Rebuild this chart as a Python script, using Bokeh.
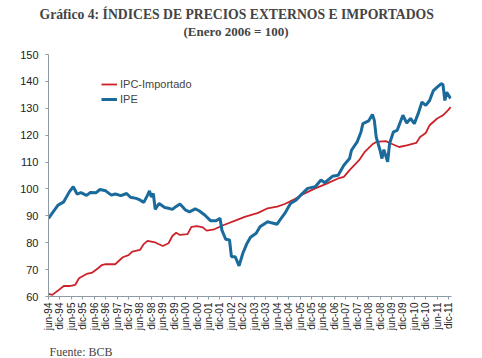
from bokeh.plotting import figure
from bokeh.models import Range1d, FixedTicker, Title, Legend, LegendItem
from bokeh.embed import file_html
from bokeh.resources import INLINE

# months counted from jun-94 (0)
ipe_mes = [0, 3, 5, 8, 11, 13, 15, 17, 20, 22, 25, 27, 30, 33, 35, 38, 41, 43, 46, 48, 50, 52, 53, 54, 55, 56,
           58, 61, 63, 65, 67, 69, 72, 74, 77, 79, 82, 85, 88, 90, 91, 93, 95, 96, 98, 100, 102, 104, 106, 109,
           111, 115, 117, 120, 122, 124, 127, 130, 132, 136, 140, 143, 145, 149, 152, 155, 158, 159, 162, 164,
           165, 168, 170, 171, 172, 174, 175, 176, 178, 179, 181, 183, 186, 188, 190, 192, 194, 196, 198, 200,
           202, 204, 206, 207, 208, 209, 211]
ipe_val = [89.1, 92.0, 94.0, 95.2, 99.0, 100.8, 98.1, 98.6, 97.6, 98.7, 98.6, 99.8, 99.3, 97.7, 98.1, 97.5, 98.3,
           96.9, 96.5, 95.9, 95.0, 97.7, 99.3, 97.0, 98.3, 92.4, 94.6, 93.1, 92.8, 92.4, 93.5, 94.4, 92.1, 91.5,
           92.6, 91.9, 90.3, 88.2, 88.2, 89.1, 84.7, 81.3, 81.0, 74.8, 74.8, 71.4, 76.1, 79.5, 82.0, 83.5, 85.9,
           87.8, 87.4, 86.9, 89.0, 90.9, 94.6, 95.9, 97.4, 100.2, 100.8, 103.3, 102.3, 104.7, 105.1, 108.8, 111.3,
           114.4, 117.5, 121.2, 124.3, 125.3, 127.7, 125.5, 119.3, 114.4, 111.3, 114.6, 110.1, 116.9, 121.2, 121.8,
           127.4, 124.5, 126.2, 124.3, 128.0, 132.3, 131.1, 132.9, 136.6, 137.9, 139.1, 138.9, 132.9, 136.0, 133.6]

ipc_mes = [0, 2, 5, 8, 11, 14, 16, 20, 23, 26, 28, 30, 35, 39, 42, 44, 48, 50, 52, 56, 60, 63, 65, 67, 69, 73,
           75, 78, 81, 83, 87, 92, 98, 103, 110, 115, 120, 124, 129, 132, 140, 146, 152, 155, 158, 163, 166, 170,
           172, 177, 180, 184, 188, 193, 195, 198, 200, 204, 207, 210, 211]
ipc_val = [61.0, 60.6, 62.2, 63.9, 63.9, 64.3, 66.8, 68.4, 68.9, 70.5, 71.7, 72.0, 72.0, 74.6, 75.4, 76.7, 77.3,
           79.5, 80.7, 80.1, 78.8, 79.8, 82.5, 83.7, 82.9, 83.2, 85.9, 86.2, 85.7, 84.5, 85.0, 86.6, 88.2, 89.6,
           91.1, 92.8, 93.4, 94.4, 96.1, 97.5, 100.2, 102.0, 103.9, 104.5, 107.0, 110.7, 113.8, 116.6, 117.5,
           117.8, 116.8, 115.6, 116.2, 117.1, 119.3, 120.8, 123.7, 126.2, 127.4, 129.5, 130.5]

tick_mes = list(range(0, 211, 6))
tick_labels = [("jun-" if i % 2 == 0 else "dic-") + "%02d" % ((94 + i // 2) % 100) for i in range(len(tick_mes))]
y_ticks = [60, 70, 80, 90, 100, 110, 120, 130, 140, 150]

titulo1 = "Gráfico 4: ÍNDICES DE PRECIOS EXTERNOS E IMPORTADOS"
titulo2 = "(Enero 2006 = 100)"
fuente = "Fuente: BCB"

BLUE = "#1b6a9c"
RED = "#cc2229"
AXIS = "#8c9ba5"

p = figure(width=482, height=358, output_backend="svg", toolbar_location=None,
           x_range=Range1d(0, 211.5), y_range=Range1d(60, 150),
           min_border_left=48, min_border_right=31, min_border_top=54, min_border_bottom=58)
p.title = None
p.outline_line_color = None
p.grid.visible = False
p.background_fill_color = "white"
p.border_fill_color = "white"

l_ipc = p.line(ipc_mes, ipc_val, line_color=RED, line_width=1.8)
l_ipe = p.line(ipe_mes, ipe_val, line_color=BLUE, line_width=3)

p.xaxis.ticker = FixedTicker(ticks=tick_mes)
p.xaxis.major_label_overrides = {m: t for m, t in zip(tick_mes, tick_labels)}
p.xaxis.major_label_orientation = 1.5708
p.xaxis.major_label_text_font = "Liberation Sans"
p.xaxis.major_label_text_font_size = "10px"
p.xaxis.major_label_text_color = "#222222"
p.xaxis.major_label_standoff = 3
p.xaxis.minor_tick_line_color = None
p.xaxis.major_tick_in = 0
p.xaxis.major_tick_out = 3

p.yaxis.ticker = FixedTicker(ticks=y_ticks)
p.yaxis.major_label_text_font = "Liberation Sans"
p.yaxis.major_label_text_font_size = "11px"
p.yaxis.major_label_text_color = "#222222"
p.yaxis.minor_tick_line_color = None
p.yaxis.major_tick_in = 0
p.yaxis.major_tick_out = 3
p.yaxis.major_label_standoff = 7

for ax in (p.xaxis, p.yaxis):
    ax.axis_line_color = AXIS
    ax.major_tick_line_color = AXIS

legend = Legend(items=[LegendItem(label="IPC-Importado", renderers=[l_ipc]),
                       LegendItem(label="IPE", renderers=[l_ipe])],
                location=(53, 190), padding=0, margin=0, spacing=1,
                glyph_width=16, glyph_height=14, label_height=14, label_standoff=3,
                label_text_font="Liberation Sans", label_text_font_size="11px",
                border_line_color=None, background_fill_alpha=0)
p.add_layout(legend, "center")

# spacer between frame and the title block
p.add_layout(Title(text=" ", text_font_size="1px", standoff=13), "above")
p.add_layout(Title(text=titulo2, align="left", offset=135, text_font="Liberation Serif",
                   text_font_size="13px", text_font_style="bold", standoff=0), "above")
p.add_layout(Title(text=titulo1, align="left", offset=-9, text_font="Liberation Serif",
                   text_font_size="13.7px", text_font_style="bold", standoff=0), "above")
# spacer between axis labels and source note
p.add_layout(Title(text=" ", text_font_size="1px", standoff=6), "below")
p.add_layout(Title(text=fuente, align="left", text_font="Liberation Serif",
                   text_font_size="12px", text_font_style="normal", offset=1, standoff=0), "below")

open("out.html", "w").write(file_html(p, INLINE))
